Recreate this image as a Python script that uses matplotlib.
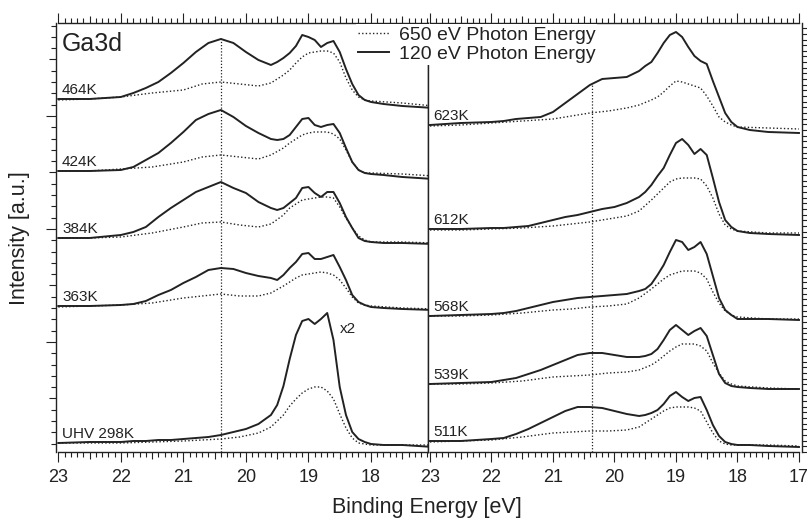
import numpy as np
import matplotlib.pyplot as plt
from matplotlib.ticker import MultipleLocator

plt.rcParams['font.family'] = ['Liberation Sans', 'DejaVu Sans']

# binding energy grids [eV]
energy_120 = [23.0, 22.5, 22.0, 21.8, 21.6, 21.4, 21.2, 21.0, 20.8, 20.6, 20.4, 20.2, 20.0,
              19.8, 19.6, 19.5, 19.4, 19.3, 19.2, 19.1, 19.0, 18.9, 18.8, 18.7, 18.6, 18.5,
              18.4, 18.3, 18.2, 18.1, 18.0, 17.8, 17.5, 17.0]
energy_650 = [23.0, 22.5, 22.0, 21.5, 21.0, 20.7, 20.4, 20.1, 19.8, 19.6, 19.4, 19.3, 19.2,
              19.1, 19.0, 18.9, 18.8, 18.7, 18.6, 18.5, 18.4, 18.3, 18.2, 18.1, 18.0, 17.5, 17.0]

# stacked intensities [a.u.], left panel (120 eV solid, 650 eV dotted)
i120_298 = [9, 10, 10, 11, 11, 12, 12, 13, 14, 15, 17, 20, 23, 28, 37, 47, 66, 93, 117, 131, 133,
            128, 133, 139, 112, 65, 37, 20, 13, 10, 8, 7, 7, 5]
i650_298 = [9, 9, 9, 10, 11, 12, 13, 15, 19, 25, 37, 46, 53, 59, 63, 65, 65, 61, 53, 38, 24, 14,
            9, 8, 7, 7, 7]
i120_363 = [146, 146, 147, 148, 151, 157, 162, 169, 175, 182, 184, 183, 179, 176, 174, 172, 177,
            184, 190, 198, 199, 193, 193, 195, 197, 185, 172, 157, 150, 147, 145, 144, 143, 142]
i650_363 = [145, 146, 147, 149, 154, 156, 158, 156, 156, 159, 166, 170, 174, 177, 178, 179, 180,
            179, 177, 172, 164, 155, 149, 147, 146, 144, 143]
i120_384 = [214, 214, 217, 220, 225, 235, 244, 252, 260, 265, 270, 264, 259, 250, 244, 242, 244,
            249, 254, 264, 265, 259, 255, 260, 260, 249, 235, 224, 214, 211, 210, 209, 209, 208]
i650_384 = [214, 214, 215, 219, 225, 229, 230, 227, 225, 228, 237, 244, 248, 252, 253, 254, 255,
            255, 254, 245, 234, 224, 216, 212, 210, 210, 209]
i120_424 = [281, 281, 282, 285, 292, 299, 309, 320, 332, 338, 342, 335, 326, 319, 313, 312, 313,
            317, 325, 333, 334, 327, 325, 327, 328, 319, 304, 290, 282, 279, 278, 277, 275, 273]
i650_424 = [281, 281, 283, 285, 290, 295, 297, 295, 293, 297, 304, 309, 313, 317, 319, 320, 320,
            320, 318, 313, 302, 290, 282, 279, 279, 278, 276]
i120_464 = [353, 353, 355, 359, 364, 370, 379, 389, 400, 409, 413, 409, 400, 392, 387, 390, 394,
            399, 406, 417, 415, 412, 405, 409, 411, 400, 383, 368, 357, 352, 350, 348, 346, 344]
i650_464 = [352, 353, 355, 359, 362, 368, 370, 368, 366, 369, 377, 382, 389, 395, 399, 400, 401,
            401, 399, 390, 374, 362, 355, 352, 351, 349, 346]

# right panel
i120_511 = [11, 11, 13, 14, 18, 23, 29, 35, 41, 45, 45, 44, 41, 38, 36, 37, 39, 42, 48, 56, 60,
            55, 51, 54, 55, 42, 27, 16, 10, 8, 7, 7, 6, 5]
i650_511 = [10, 11, 12, 15, 19, 20, 21, 21, 22, 25, 33, 37, 41, 44, 45, 45, 45, 44, 41, 30, 19,
            11, 8, 7, 7, 7, 6]
i120_539 = [68, 69, 70, 72, 74, 78, 82, 87, 92, 97, 99, 99, 97, 95, 95, 96, 98, 103, 112, 122,
            127, 122, 117, 121, 124, 116, 97, 78, 69, 66, 65, 64, 63, 63]
i650_539 = [68, 68, 69, 71, 75, 76, 77, 79, 80, 82, 87, 91, 96, 101, 105, 108, 108, 108, 106,
            101, 89, 79, 71, 68, 66, 64, 63]
i120_568 = [136, 137, 138, 139, 141, 144, 147, 150, 152, 154, 155, 156, 157, 158, 161, 163, 168,
            177, 187, 200, 212, 210, 202, 205, 210, 198, 176, 154, 142, 137, 133, 133, 133, 132]
i650_568 = [136, 136, 137, 139, 142, 143, 145, 146, 148, 154, 163, 168, 173, 177, 179, 181, 181,
            181, 179, 173, 160, 149, 141, 137, 135, 133, 133]
i120_612 = [223, 223, 224, 224, 225, 226, 229, 232, 235, 237, 240, 243, 245, 249, 255, 260, 267,
            276, 284, 297, 309, 313, 307, 298, 303, 297, 274, 250, 232, 225, 221, 219, 218, 217]
i650_612 = [222, 222, 223, 224, 226, 228, 230, 233, 236, 241, 252, 258, 264, 270, 273, 274, 274,
            274, 273, 266, 254, 238, 227, 223, 221, 219, 219]
i120_623 = [327, 329, 330, 331, 333, 334, 335, 340, 349, 358, 367, 373, 374, 375, 381, 386, 390,
            399, 409, 417, 420, 415, 405, 396, 391, 388, 371, 355, 339, 330, 325, 322, 320, 319]
i650_623 = [326, 327, 329, 331, 333, 336, 339, 341, 344, 347, 352, 355, 360, 366, 371, 370, 368,
            366, 364, 356, 346, 335, 330, 327, 325, 324, 323]

left_names = ['UHV 298K', '363K', '384K', '424K', '464K']
right_names = ['511K', '539K', '568K', '612K', '623K']
left_120 = [i120_298, i120_363, i120_384, i120_424, i120_464]
left_650 = [i650_298, i650_363, i650_384, i650_424, i650_464]
right_120 = [i120_511, i120_539, i120_568, i120_612, i120_623]
right_650 = [i650_511, i650_539, i650_568, i650_612, i650_623]

INK = '#222222'


def mid_ticks(axis, where, size):
    # IGOR-style medium ticks halfway between the major ones
    locs = axis.get_minorticklocs()
    for loc, tick in zip(locs, axis.get_minor_ticks(len(locs))):
        if np.isclose(where, loc).any():
            tick.tick1line.set_markersize(size)
            tick.tick2line.set_markersize(size)


fig = plt.figure(figsize=(8.07, 5.19), dpi=100)
ax_l = fig.add_axes([0.0690, 0.1291, 0.4617, 0.8266])
ax_r = fig.add_axes([0.5307, 0.1291, 0.4627, 0.8266])

for ax, s120, s650, names in [(ax_l, left_120, left_650, left_names),
                              (ax_r, right_120, right_650, right_names)]:
    for y120, y650, name in zip(s120, s650, names):
        h650, = ax.plot(energy_650, y650, color=INK, lw=1.0, ls=(0, (1, 1.6)))
        h120, = ax.plot(energy_120, y120, color=INK, lw=1.4)
        ax.text(22.94, y120[0] + 4.5, name, fontsize=11, color=INK, ha='left', va='baseline')

# reference line at the oxide component
ax_l.vlines(20.40, 0, 414, color=INK, lw=0.9, ls=(0, (1, 1.5)))
ax_r.vlines(20.37, 0, 367, color=INK, lw=0.9, ls=(0, (1, 1.5)))

ax_l.text(22.94, 400.5, 'Ga3d', fontsize=18, color=INK, ha='left', va='baseline')
ax_l.text(18.50, 119, 'x2', fontsize=11, color=INK, ha='left', va='baseline')

for ax, xlim in [(ax_l, (23.042, 17.084)), (ax_r, (23.028, 16.956))]:
    ax.set_xlim(*xlim)
    ax.set_ylim(0, 429)
    ax.xaxis.set_major_locator(MultipleLocator(1))
    ax.xaxis.set_minor_locator(MultipleLocator(0.1))
    ax.tick_params(axis='x', which='both', direction='out', bottom=True, top=True,
                   labeltop=False, colors=INK, labelsize=13, width=0.8, pad=5)
    ax.tick_params(axis='x', which='major', length=7)
    ax.tick_params(axis='x', which='minor', length=3.6)
    for side in ['top', 'bottom', 'left', 'right']:
        ax.spines[side].set_color(INK)
        ax.spines[side].set_linewidth(1.0)
    ax.spines['bottom'].set_bounds(23, max(xlim[1], 17))
    ax.spines['top'].set_bounds(23, max(xlim[1], 17))
    mid_ticks(ax.xaxis, [22.5, 21.5, 20.5, 19.5, 18.5, 17.5], 5.2)

ax_l.yaxis.set_major_locator(MultipleLocator(113, offset=110))
ax_l.yaxis.set_minor_locator(MultipleLocator(11.3, offset=110))
ax_l.tick_params(axis='y', which='both', direction='out', left=True, right=False,
                 labelleft=False, colors=INK, width=0.8)
ax_l.tick_params(axis='y', which='major', length=7)
ax_l.tick_params(axis='y', which='minor', length=3.6)
mid_ticks(ax_l.yaxis, [53.5, 166.5, 279.5, 392.5], 5.2)

ax_r.yaxis.set_major_locator(MultipleLocator(5.65))
ax_r.tick_params(axis='y', which='both', direction='out', left=False, right=True,
                 labelleft=False, labelright=False, colors=INK, width=0.8, length=3.6)

fig.legend([h650, h120], ['650 eV Photon Energy', '120 eV Photon Energy'],
           loc='upper left', bbox_to_anchor=(0.4411, 0.9538), fontsize=14, labelcolor=INK,
           frameon=True, fancybox=False, framealpha=1, edgecolor='none', facecolor='white',
           borderpad=0.1, borderaxespad=0, handlelength=1.6, handletextpad=0.5,
           labelspacing=0.1)

fig.text(0.529, 0.0116, 'Binding Energy [eV]', fontsize=15.5, color=INK,
         ha='center', va='baseline')
fig.text(0.024, 0.542, 'Intensity [a.u.]', fontsize=15.5, color=INK,
         ha='center', va='center', rotation=90)

fig.savefig('out.png', dpi=100)
